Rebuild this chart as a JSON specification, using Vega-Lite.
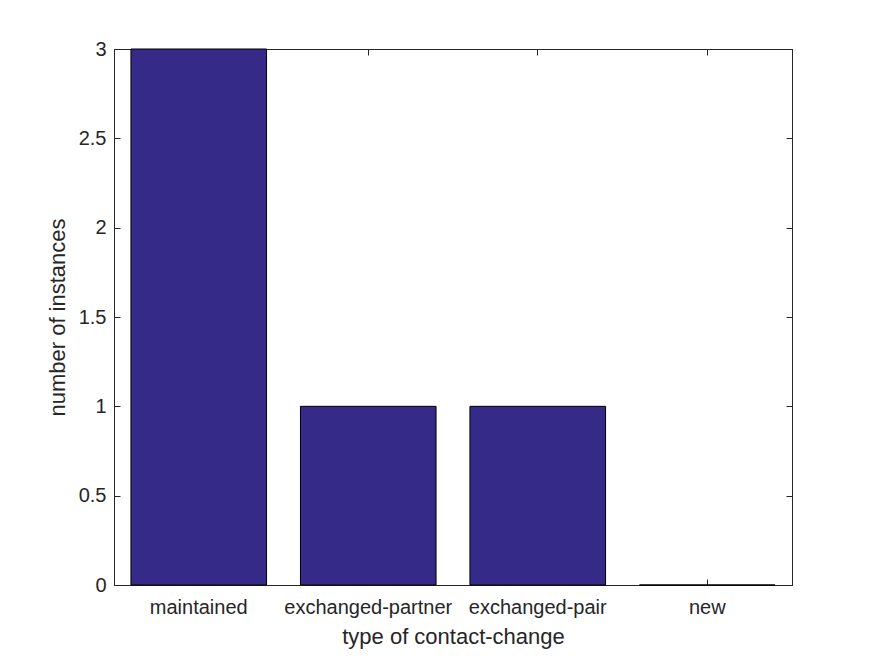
{
  "$schema": "https://vega.github.io/schema/vega-lite/v6.json",
  "autosize": {"type": "none"},
  "width": 678,
  "height": 536,
  "padding": {"left": 114, "top": 49, "right": 83, "bottom": 71},
  "background": "white",
  "config": {
    "view": {"stroke": "#262626", "strokeWidth": 1},
    "font": "Liberation Sans",
    "axis": {
      "domainColor": "#262626",
      "tickColor": "#262626",
      "labelColor": "#262626",
      "titleColor": "#262626",
      "labelFont": "Liberation Sans",
      "titleFont": "Liberation Sans",
      "labelFontSize": 20,
      "titleFontSize": 22,
      "titleFontWeight": "normal",
      "grid": false
    }
  },
  "data": {
    "values": [
      {"type": "maintained", "count": 3},
      {"type": "exchanged-partner", "count": 1},
      {"type": "exchanged-pair", "count": 1},
      {"type": "new", "count": 0}
    ]
  },
  "layer": [
    {
      "mark": {"type": "bar", "color": "#352A87", "stroke": "#000000", "strokeWidth": 1},
      "encoding": {
        "x": {
          "field": "type",
          "type": "nominal",
          "sort": null,
          "scale": {"paddingInner": 0.2, "paddingOuter": 0.1},
          "axis": {
            "title": "type of contact-change",
            "labelAngle": 0,
            "tickSize": -6,
            "labelPadding": 18,
            "titlePadding": 9
          }
        },
        "y": {
          "field": "count",
          "type": "quantitative",
          "scale": {"domain": [0, 3], "nice": false},
          "axis": {
            "title": "number of instances",
            "values": [0, 0.5, 1, 1.5, 2, 2.5, 3],
            "format": "~g",
            "tickSize": -6,
            "labelPadding": 14,
            "titlePadding": 9
          }
        }
      }
    },
    {
      "mark": {"type": "bar", "opacity": 0},
      "encoding": {
        "x": {
          "field": "type",
          "type": "nominal",
          "sort": null,
          "scale": {"paddingInner": 0.2, "paddingOuter": 0.1},
          "axis": {"orient": "top", "title": null, "labels": false, "tickSize": -6}
        },
        "y": {
          "field": "count",
          "type": "quantitative",
          "scale": {"domain": [0, 3], "nice": false},
          "axis": {"orient": "right", "title": null, "labels": false, "tickSize": -6, "values": [0, 0.5, 1, 1.5, 2, 2.5, 3]}
        }
      }
    }
  ],
  "resolve": {"axis": {"x": "independent", "y": "independent"}}
}
